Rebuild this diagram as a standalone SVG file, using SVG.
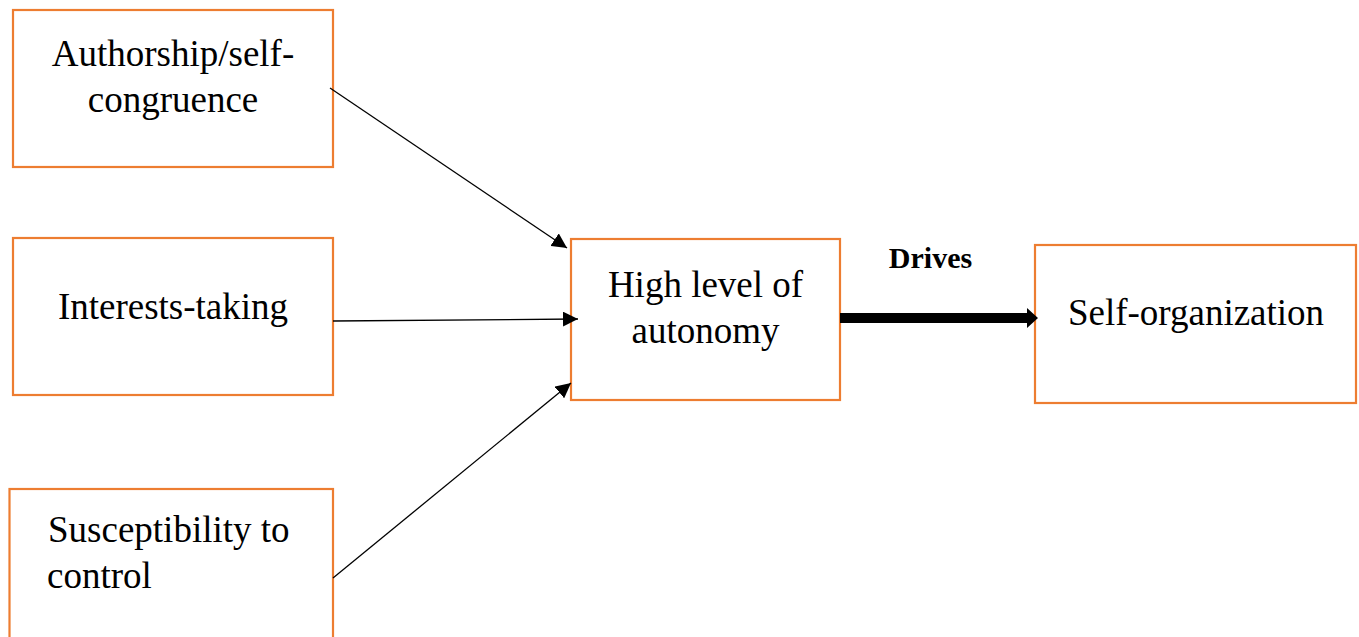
<svg xmlns="http://www.w3.org/2000/svg" width="1359" height="637" viewBox="0 0 1359 637">
  <style>
    .box { fill: #ffffff; stroke: #ED7D31; stroke-width: 2.2; }
    .label { font-family: "Liberation Serif", "Times New Roman", serif; font-size: 37px; fill: #000000; }
    .mid { text-anchor: middle; }
    .thin { stroke: #000000; stroke-width: 1.3; fill: none; }
    .bold { font-family: "Liberation Serif", "Times New Roman", serif; font-size: 30px; font-weight: bold; fill: #000000; text-anchor: middle; }
  </style>
  <defs>
    <marker id="head" viewBox="0 0 10 10" refX="10" refY="5" markerUnits="userSpaceOnUse" markerWidth="15" markerHeight="15" orient="auto">
      <path d="M0,0 L10,5 L0,10 Z" fill="#000000"/>
    </marker>
  </defs>
  <rect width="1359" height="637" fill="#ffffff"/>

  <g id="node-authorship">
    <rect class="box" x="13" y="10" width="320" height="157"/>
    <text class="label mid" x="173" y="66">Authorship/self-</text>
    <text class="label mid" x="173" y="112">congruence</text>
  </g>

  <g id="node-interests">
    <rect class="box" x="13" y="238" width="320" height="157"/>
    <text class="label mid" x="173" y="319">Interests-taking</text>
  </g>

  <g id="node-susceptibility">
    <rect class="box" x="9.5" y="489" width="323.5" height="160"/>
    <text class="label" x="48" y="542">Susceptibility to</text>
    <text class="label" x="47" y="588">control</text>
  </g>

  <g id="node-autonomy">
    <rect class="box" x="571" y="239" width="269" height="161"/>
    <text class="label mid" x="705.5" y="297">High level of</text>
    <text class="label mid" x="705.5" y="343">autonomy</text>
  </g>

  <g id="node-selforg">
    <rect class="box" x="1035" y="245" width="321" height="158"/>
    <text class="label mid" x="1196" y="325">Self-organization</text>
  </g>

  <g id="connectors">
    <line class="thin" x1="330" y1="88" x2="567" y2="248" marker-end="url(#head)"/>
    <line class="thin" x1="333" y1="321" x2="578" y2="319" marker-end="url(#head)"/>
    <line class="thin" x1="333" y1="578" x2="571" y2="383" marker-end="url(#head)"/>
    <polygon points="840,313 1027,313 1027,308 1038,318 1027,328 1027,323 840,323" fill="#000000"/>
    <text class="bold" x="930.5" y="268">Drives</text>
  </g>
</svg>
